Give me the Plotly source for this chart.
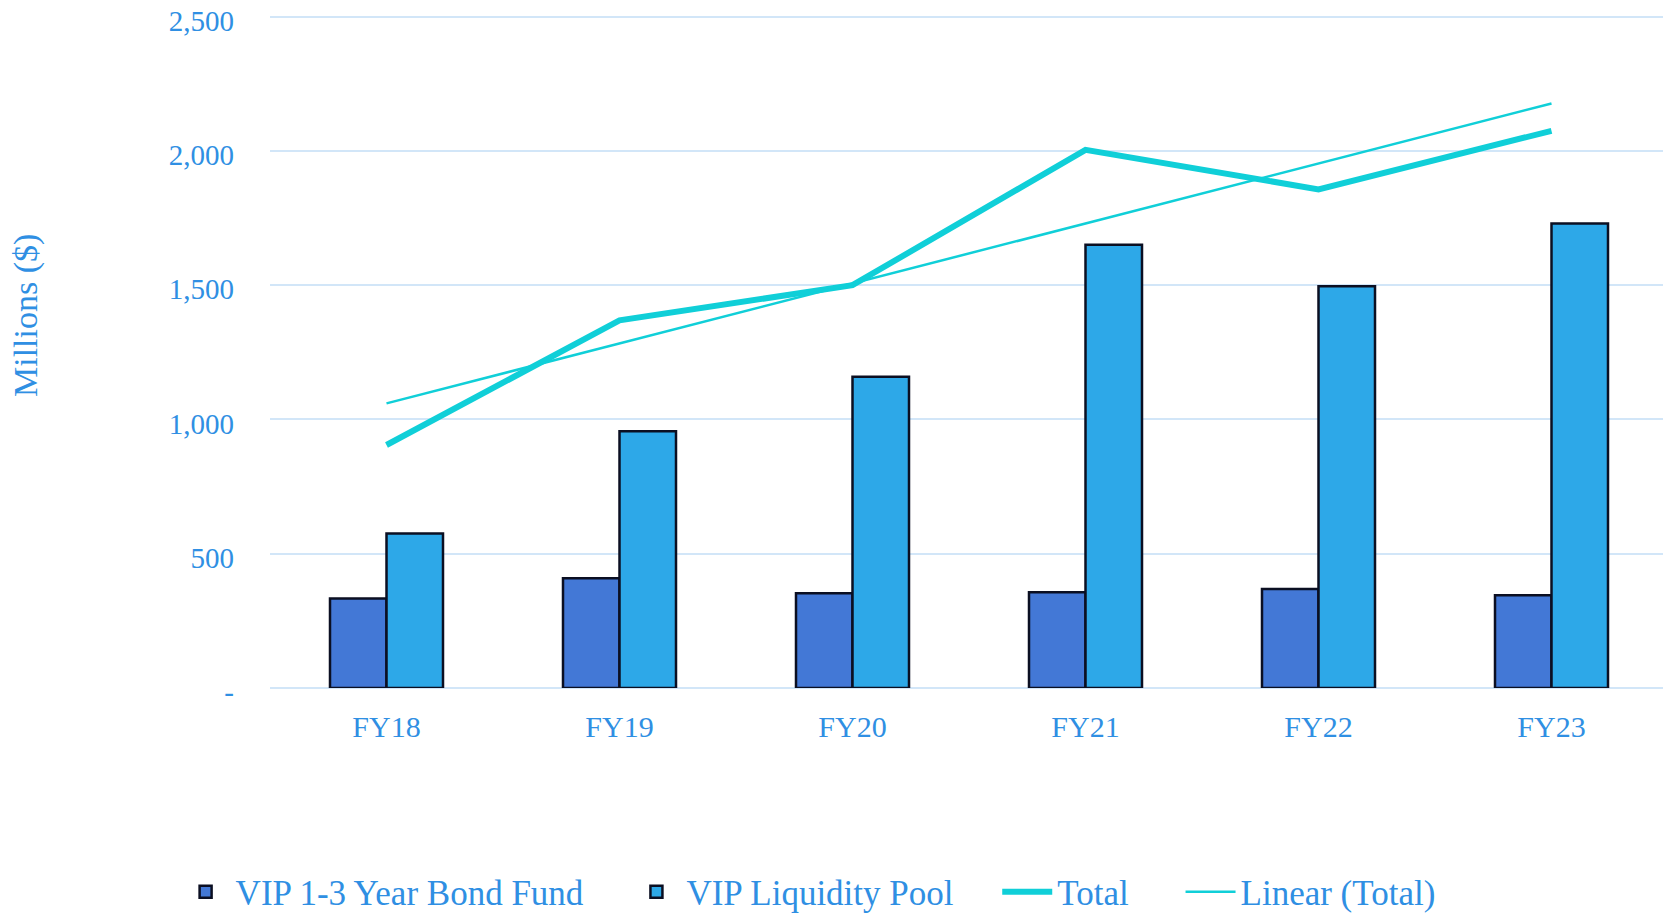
import numpy as np
import plotly.graph_objects as go

categories = ["FY18", "FY19", "FY20", "FY21", "FY22", "FY23"]
bond_fund = [333, 409, 353, 357, 369, 345]
liquidity_pool = [575, 956, 1159, 1651, 1496, 1730]
total = [905, 1369, 1500, 2004, 1857, 2075]
y_tick_values = [0, 500, 1000, 1500, 2000, 2500]
y_tick_labels = ["-", "500", "1,000", "1,500", "2,000", "2,500"]

# Linear trendline of Total (least squares), as in the original chart
idx = np.arange(len(categories))
coef = np.polyfit(idx, total, 1)
trend = np.polyval(coef, idx)

TEXT = "#2f8fe3"
FONT = "Liberation Serif"

fig = go.Figure()
fig.add_bar(x=categories, y=bond_fund, name="VIP 1-3 Year Bond Fund", legend="legend",
            marker=dict(color="#4378d6", line=dict(color="#0b0f22", width=2.5)))
fig.add_bar(x=categories, y=liquidity_pool, name="VIP Liquidity Pool", legend="legend2",
            marker=dict(color="#2da8e8", line=dict(color="#0b0f22", width=2.5)))
fig.add_scatter(x=categories, y=total, mode="lines", name="Total", legend="legend3",
                line=dict(color="#10cfd8", width=6))
fig.add_scatter(x=categories, y=trend, mode="lines", name="Linear (Total)", legend="legend4",
                line=dict(color="#10cfd8", width=2.5))

def leg(x):
    return dict(orientation="h", xref="container", yref="container",
                x=x, y=0.034, xanchor="left", yanchor="middle",
                font=dict(size=35, family=FONT, color=TEXT),
                itemwidth=50, bgcolor="rgba(0,0,0,0)")

fig.update_layout(
    width=1671, height=915,
    margin=dict(l=262, r=11, t=6, b=235),
    paper_bgcolor="white", plot_bgcolor="white",
    barmode="group", bargap=0.515, bargroupgap=0,
    font=dict(family=FONT, color=TEXT, size=28),
    legend=leg(0.1003), legend2=leg(0.3701), legend3=leg(0.5920), legend4=leg(0.7017),
    showlegend=True,
    annotations=[dict(text="Millions ($)", textangle=-90, xref="paper", yref="paper",
                      x=-0.1745, y=0.552, xanchor="center", yanchor="middle",
                      showarrow=False, font=dict(size=34, family=FONT, color=TEXT))],
)
fig.update_xaxes(showgrid=False, showline=False, ticks="", ticklabelstandoff=18,
                 automargin=False,
                 tickfont=dict(size=30, family=FONT, color=TEXT))
fig.update_yaxes(range=[0, 2510], tickvals=y_tick_values, ticktext=y_tick_labels,
                 automargin=False, ticklabeloverflow="allow", ticklabelshift=4,
                 showgrid=True, gridcolor="#d2e6f8", gridwidth=2,
                 zeroline=True, zerolinecolor="#d2e6f8", zerolinewidth=2,
                 showline=False, ticks="", ticklabelstandoff=35,
                 tickfont=dict(size=29, family=FONT, color=TEXT))

fig.write_html("out.html")
